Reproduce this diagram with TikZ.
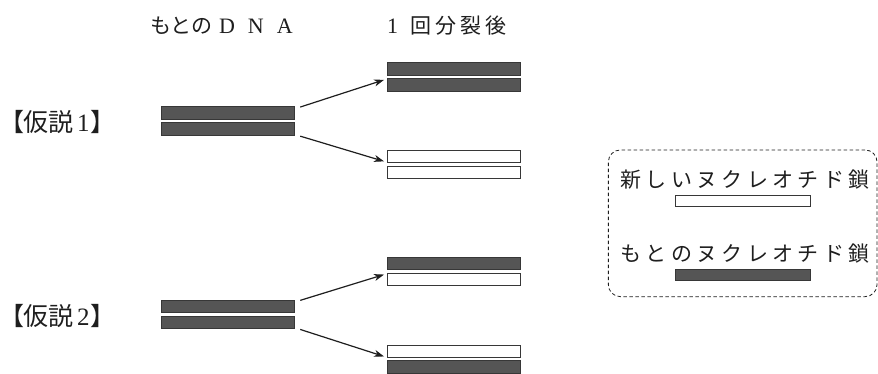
\documentclass[tikz,border=0pt]{standalone}
\usepackage{fontspec}
\newfontfamily\jpfont{Noto Sans CJK JP}
\newfontfamily\jpfontP[RawFeature=+palt]{Noto Sans CJK JP}
\newfontfamily\serfont{Liberation Serif}
\usetikzlibrary{arrows.meta}
\definecolor{strandgray}{RGB}{85,85,85}
\definecolor{strandedge}{RGB}{55,55,55}
\definecolor{inkc}{RGB}{30,30,30}
\newcommand\jpA{\jpfont\fontsize{21pt}{25pt}\selectfont}
\newcommand\jpB{\jpfontP\fontsize{25pt}{29pt}\selectfont}
\newcommand\serA{\serfont\fontsize{22pt}{26pt}\selectfont}
\newcommand\serB{\serfont\fontsize{25pt}{29pt}\selectfont}
\tikzset{
  strand/.style={rectangle, inner sep=0pt, minimum width=133pt, minimum height=12.4pt, line width=0.9pt},
  oldst/.style={strand, fill=strandgray, draw=strandedge},
  newst/.style={strand, fill=white, draw=strandedge},
  arr/.style={line width=1.2pt, draw=inkc, -{Stealth[length=10pt,width=7pt,inset=3pt]}},
  txt/.style={inner sep=0pt, text=inkc},
}
\begin{document}
\begin{tikzpicture}[x=1pt,y=-1pt]
\useasboundingbox (0,0) rectangle (878,373);
% headings
\node[txt, anchor=base west] (T1) at (150,33.3) {\jpA もとの\kern6.5pt{\serA D\kern13pt N\kern13pt A}};
\node[txt, anchor=base west] (T2) at (387,33.3) {{\serA 1}\kern12pt\jpA 回\kern4pt 分\kern4pt 裂\kern4pt 後};
% labels
\node[txt, anchor=base west] (H1) at (11,131.5) {\jpB 【仮説\kern3.5pt{\serB 1}\kern1.5pt】};
\node[txt, anchor=base west] (H2) at (11,325.7) {\jpB 【仮説\kern3.5pt{\serB 2}\kern1.5pt】};
% hypothesis 1
\node[oldst] (L1a) at (228.3,112.9) {};
\node[oldst] (L1b) at (228.3,129) {};
\node[oldst] (R1a) at (453.5,68.9) {};
\node[oldst] (R1b) at (453.5,85) {};
\node[newst] (R1c) at (453.5,156.2) {};
\node[newst] (R1d) at (453.5,172.3) {};
\draw[arr] ([shift={(5,0.8)}]L1a.north east) -- ([shift={(-2.5,1.5)}]R1b.north west);
\draw[arr] ([shift={(5,0.5)}]L1b.south east) -- ([shift={(-2.5,-1.5)}]R1c.south west);
% hypothesis 2
\node[oldst] (L2a) at (228.3,306.2) {};
\node[oldst] (L2b) at (228.3,322.3) {};
\node[oldst] (R2a) at (453.5,263.3) {};
\node[newst] (R2b) at (453.5,279.7) {};
\node[newst] (R2c) at (453.5,351.3) {};
\node[oldst] (R2d) at (453.5,367) {};
\draw[arr] ([shift={(5,0.8)}]L2a.north east) -- ([shift={(-2.5,1.5)}]R2b.north west);
\draw[arr] ([shift={(5,0.5)}]L2b.south east) -- ([shift={(-2.5,-1.5)}]R2c.south west);
% legend
\node[draw=inkc, dash pattern=on 3.5pt off 2.5pt, rounded corners=12pt, line width=0.8pt, minimum width=268.7pt, minimum height=146.7pt, inner sep=0pt] (legend) at (742.7,223.3) {};
\node[txt] (N1) at (745,180) {\jpA\makebox[249pt][s]{新\hfill し\hfill い\hfill ヌ\hfill ク\hfill レ\hfill オ\hfill チ\hfill ド\hfill 鎖}};
\node[newst, minimum width=135.7pt, minimum height=11pt] (NB) at (742.9,201.2) {};
\node[txt] (O1) at (745,253.3) {\jpA\makebox[249pt][s]{も\hfill と\hfill の\hfill ヌ\hfill ク\hfill レ\hfill オ\hfill チ\hfill ド\hfill 鎖}};
\node[oldst, minimum width=135.7pt, minimum height=11.5pt] (OB) at (742.9,274.9) {};
\end{tikzpicture}
\end{document}
